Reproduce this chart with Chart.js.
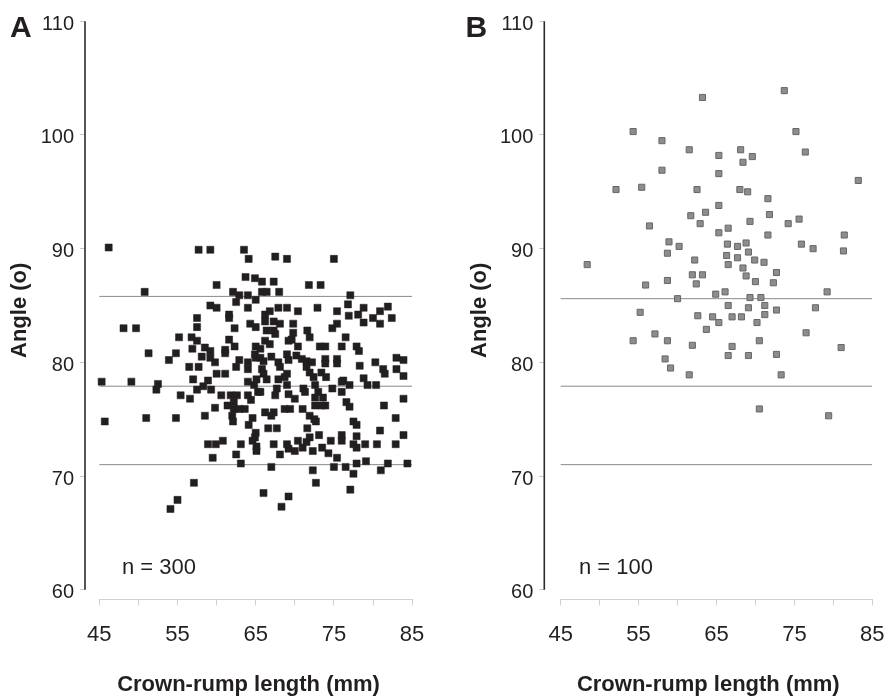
<!DOCTYPE html>
<html>
<head>
<meta charset="utf-8">
<script src="https://cdn.jsdelivr.net/npm/chart.js@4.4.1/dist/chart.umd.min.js"></script>
<style>
  html, body { margin: 0; padding: 0; background: #fff; }
  #wrap { position: relative; width: 891px; height: 698px; }
  canvas { position: absolute; top: 0; }
  #chartA { left: 0; }
  #chartB { left: 445px; }
</style>
</head>
<body>
<div id="wrap">
  <canvas id="chartA" width="445" height="698"></canvas>
  <canvas id="chartB" width="446" height="698"></canvas>
</div>
<script>
// panel A: crown-rump length (mm) and angle
const crlA = [
  46.2, 57.7, 59.2, 63.5, 64.1, 63.7, 64.9, 60.0, 50.8, 62.1,
  62.9, 64.0, 62.5, 65.0, 59.2, 60.0, 64.0, 57.5, 61.6, 61.6,
  48.1, 49.7, 57.5, 62.3, 64.3, 65.0, 55.2, 56.8, 57.5, 61.6,
  56.9, 58.5, 59.2, 61.1, 62.3, 65.0, 51.3, 54.8, 58.1, 59.2,
  61.1, 53.9, 59.8, 62.9, 64.0, 65.0, 56.5, 57.7, 62.5, 64.0,
  60.0, 61.1, 57.0, 58.9, 45.3, 49.1, 52.5, 64.0,
  52.3, 57.5, 58.3, 59.3, 55.4, 56.6, 60.6, 61.8, 62.6, 61.4,
  62.2, 62.2, 62.9, 63.6, 64.0, 64.4, 65.3, 64.8, 59.8, 58.5,
  45.7, 51.0, 54.8, 62.0, 62.1, 64.6, 64.1, 65.0, 64.6, 65.1,
  65.1, 58.9, 59.9, 60.8, 63.1, 62.5, 59.5, 63.1, 57.1, 55.0, 54.1,
  67.5, 69.0, 75.0, 65.8, 67.3, 71.8, 73.3, 65.8, 66.4, 68.0,
  77.1, 76.8, 78.8, 81.9, 67.9, 69.0, 70.4, 72.9, 75.4, 76.9,
  78.1, 80.9, 80.0, 82.4, 78.8, 80.9, 66.2, 66.8, 66.2, 67.3,
  68.1, 69.8, 75.4, 74.8, 66.4, 67.3, 69.8, 71.6, 67.5, 69.6,
  69.2, 71.9, 76.5, 66.2, 66.8, 65.6, 70.4, 73.2, 73.9, 76.0,
  77.9, 78.2, 64.9, 65.6, 66.0, 67.0, 69.0, 70.2, 70.9, 71.5,
  72.2, 73.9, 75.4, 83.0, 83.9, 67.9, 68.1, 69.2, 73.9, 75.4,
  80.3, 78.3, 83.0, 81.3, 81.5, 83.9, 65.8, 66.0, 65.1, 71.5,
  71.9, 72.4, 69.0, 68.7, 73.4, 74.0, 78.8, 76.2, 66.4, 67.9,
  65.6, 67.7, 67.5, 69.0, 69.2, 70.0, 71.1, 71.3, 72.6, 73.0,
  72.6, 73.6, 73.9, 72.6, 73.4, 74.8, 76.0, 76.0, 77.0, 79.3,
  80.4, 83.9, 81.4, 76.6, 77.0, 66.2, 67.3, 67.0, 68.7, 69.4,
  71.0, 71.9, 72.5, 72.7, 82.9, 77.5, 77.9, 66.6, 67.7, 64.9,
  71.6, 80.9, 83.9, 73.1, 76.0, 76.0, 77.9, 67.3, 69.0, 69.2,
  70.0, 70.4, 71.0, 71.5, 71.9, 72.3, 73.5, 74.6, 74.3, 75.4,
  77.5, 77.9, 79.0, 80.5, 82.9, 68.1, 67.0, 72.3, 75.0, 76.5,
  77.9, 79.1, 81.9, 84.4, 77.5, 81.0, 72.7, 77.1, 66.0, 69.2, 68.3
];
const angleA = [
  90.1, 89.9, 89.9, 89.9, 89.1, 87.5, 87.4, 86.8, 86.2, 86.2,
  85.9, 85.9, 85.3, 85.5, 85.0, 84.8, 84.8, 83.9, 84.2, 83.9,
  83.0, 83.0, 83.1, 83.0, 83.4, 83.1, 82.2, 82.2, 81.9, 82.0,
  81.2, 81.3, 81.0, 81.1, 81.4, 81.4, 80.8, 80.8, 80.5, 80.4,
  80.8, 80.2, 80.0, 80.2, 80.0, 80.4, 79.6, 79.6, 79.6, 79.4,
  79.0, 79.0, 78.5, 78.4, 78.3, 78.3, 78.1, 78.3,
  77.6, 77.6, 77.9, 77.6, 77.1, 76.8, 77.1, 77.1, 77.1, 76.2,
  76.5, 75.9, 75.9, 75.9, 77.1, 76.7, 77.4, 78.0, 76.0, 75.3,
  74.8, 75.1, 75.1, 75.3, 74.8, 75.1, 74.5, 73.8, 73.1, 72.6,
  72.2, 72.8, 72.8, 73.1, 72.8, 71.9, 71.6, 71.1, 69.4, 67.9, 67.1,
  89.3, 89.1, 89.1, 87.1, 87.1, 86.8, 86.8, 86.2, 86.2, 86.2,
  85.9, 85.1, 84.8, 84.9, 84.8, 84.8, 84.5, 84.8, 84.5, 84.1,
  84.2, 84.5, 83.9, 83.9, 83.5, 83.4, 84.2, 84.5, 83.6, 83.6,
  83.4, 83.4, 83.4, 83.0, 82.8, 82.8, 82.6, 82.8, 82.5, 82.0,
  81.9, 82.2, 82.2, 81.9, 81.6, 81.2, 81.4, 81.4, 81.4, 81.4,
  81.4, 81.0, 80.7, 80.4, 80.1, 80.5, 80.7, 80.6, 80.3, 80.1,
  80.0, 80.3, 80.3, 80.4, 80.2, 80.0, 79.6, 80.2, 79.9, 79.9,
  80.0, 79.7, 79.4, 79.4, 79.0, 78.8, 79.4, 79.0, 78.5, 79.6,
  79.1, 78.7, 79.0, 78.7, 79.1, 78.7, 78.6, 78.4, 78.5, 78.5,
  77.4, 77.7, 77.1, 78.0, 77.2, 76.8, 77.7, 77.4, 78.0, 77.4,
  76.9, 76.9, 76.2, 76.2, 76.2, 77.7, 78.3, 77.4, 78.0, 78.0,
  78.0, 76.8, 76.2, 76.5, 76.1, 75.6, 75.6, 75.3, 75.9, 75.9,
  75.9, 75.3, 75.0, 74.8, 75.1, 74.8, 74.5, 74.2, 74.2, 73.4,
  74.2, 74.0, 73.6, 73.6, 73.6, 73.1, 73.5, 72.8, 72.8, 72.4,
  72.2, 73.1, 72.5, 73.0, 73.4, 72.2, 72.5, 73.1, 72.0, 71.6,
  72.8, 72.5, 72.8, 72.8, 72.8, 71.9, 70.8, 70.5, 70.8, 70.8,
  71.1, 71.3, 71.1, 71.1, 70.2, 70.5, 69.4, 68.8, 68.5, 68.2, 67.3
];

// panel B
const crlB = [
  63.2, 54.3, 58.0, 61.5, 65.3, 58.0, 65.3, 52.1, 55.4, 62.5,
  65.3, 61.7, 63.6, 62.9, 56.4, 65.3, 58.9, 60.2, 58.7, 48.4,
  62.2, 61.9, 63.2, 58.7, 55.9, 62.4, 64.9, 60.0, 55.2, 62.6,
  64.5, 65.3, 63.7, 57.1, 54.3, 58.7, 61.9, 58.4, 59.1, 61.5,
  73.7, 75.2, 68.1, 69.6, 68.4, 76.4, 83.2, 68.0, 69.0, 71.6,
  71.8, 69.3, 74.2, 75.6, 66.5, 71.6, 81.4, 66.4, 67.7, 68.8,
  75.9, 77.4, 81.3, 69.1, 66.3, 67.7, 69.9, 71.1, 66.5, 68.4,
  72.7, 68.8, 70.0, 72.3, 79.2, 66.1, 69.3, 70.7, 66.5, 69.1,
  71.2, 71.2, 72.7, 77.7, 67.0, 68.2, 70.2, 76.5, 70.5, 67.0,
  81.0, 66.5, 69.1, 72.7, 73.3, 70.5, 79.4
];
const angleB = [
  103.3, 100.3, 99.5, 98.7, 98.2, 96.9, 96.6, 95.2, 95.4, 95.2,
  93.8, 92.9, 93.2, 92.2, 92.0, 91.4, 90.6, 90.2, 89.6, 88.6,
  89.0, 87.7, 87.7, 87.2, 86.8, 86.9, 86.0, 85.6, 84.4, 84.1,
  84.0, 83.5, 82.9, 82.5, 81.9, 81.9, 81.5, 80.3, 79.5, 78.9,
  103.9, 100.3, 98.7, 98.1, 97.6, 98.5, 96.0, 95.2, 95.0, 94.4,
  93.0, 92.4, 92.2, 92.6, 91.8, 91.2, 91.2, 90.4, 90.2, 90.5,
  90.4, 90.0, 89.8, 89.7, 89.4, 89.2, 89.0, 88.8, 88.6, 88.3,
  87.9, 87.6, 87.1, 87.0, 86.2, 86.2, 85.7, 85.7, 85.0, 84.8,
  85.0, 84.2, 84.6, 84.8, 84.0, 84.0, 83.5, 82.6, 81.9, 81.4,
  81.3, 80.6, 80.6, 80.7, 78.9, 75.9, 75.3
];

// horizontal reference levels
const refLinesA = [85.8, 77.9, 71.0];
const refLinesB = [85.6, 77.9, 71.0];

const xTicks = [45, 50, 55, 60, 65, 70, 75, 80, 85];
const xTickLabels = ["45", "", "55", "", "65", "", "75", "", "85"];
const yTicks = [60, 70, 80, 90, 100, 110];

const INK = "#231f20";
const FONT = "'Liberation Sans', Arial, Helvetica, sans-serif";

Chart.defaults.font.family = FONT;
Chart.defaults.color = INK;

// y axis line (110 down to 60), faint x baseline, panel letter, n label
const axesPlugin = {
  id: "axesPlugin",
  afterDraw(chart, args, opts) {
    const ctx = chart.ctx;
    const xs = chart.scales.x;
    const ys = chart.scales.y;
    const left = chart.chartArea.left;
    ctx.save();
    ctx.strokeStyle = "#2b2b2b";
    ctx.lineWidth = 1.6;
    ctx.beginPath();
    ctx.moveTo(left, ys.getPixelForValue(yTicks[yTicks.length - 1]));
    ctx.lineTo(left, ys.getPixelForValue(yTicks[0]));
    ctx.stroke();

    const by = Math.round(chart.chartArea.bottom) + 0.5;
    ctx.strokeStyle = "#d2d2d2";
    ctx.lineWidth = 1;
    ctx.beginPath();
    ctx.moveTo(xs.getPixelForValue(xTicks[0]), by);
    ctx.lineTo(xs.getPixelForValue(xTicks[xTicks.length - 1]), by);
    ctx.stroke();

    ctx.fillStyle = INK;
    ctx.font = "bold 30px " + FONT;
    ctx.textAlign = "left";
    ctx.textBaseline = "alphabetic";
    ctx.fillText(opts.letter, opts.letterX, 37);

    ctx.font = "22px " + FONT;
    ctx.textBaseline = "middle";
    ctx.fillText(opts.nText, xs.getPixelForValue(opts.nAt[0]), ys.getPixelForValue(opts.nAt[1]));
    ctx.restore();
  }
};

function makeChart(id, xVals, yVals, refs, cfg) {
  let lineSets = refs.map(function (v) {
    return {
      data: [{ x: xTicks[0], y: v }, { x: xTicks[xTicks.length - 1], y: v }],
      showLine: true,
      pointRadius: 0,
      borderColor: "#8a8a8a",
      borderWidth: 1,
      order: 2,
    };
  });
  let points = xVals.map(function (x, i) {
    return { x: x, y: yVals[i] };
  });

  return new Chart(document.getElementById(id), {
    type: "scatter",
    data: {
      datasets: lineSets.concat([
        {
          data: points,
          pointStyle: "rect",
          pointRadius: cfg.radius,
          backgroundColor: cfg.fill,
          borderColor: cfg.stroke,
          borderWidth: cfg.strokeWidth,
          order: 1,
        },
      ]),
    },
    options: {
      responsive: false,
      animation: false,
      events: [],
      layout: { padding: { top: 21.3, right: cfg.padRight, bottom: 0, left: 0 } },
      plugins: {
        legend: { display: false },
        tooltip: { enabled: false },
        axesPlugin: { letter: cfg.letter, letterX: cfg.letterX, nText: cfg.nText, nAt: cfg.nAt },
      },
      scales: {
        x: {
          type: "linear",
          min: cfg.xMin,
          max: 85,
          afterBuildTicks: function (s) {
            s.ticks = xTicks.map(function (v) { return { value: v }; });
          },
          afterFit: function (s) {
            s.height = 98.7;
            s.paddingLeft = 0;
            s.paddingRight = 0;
          },
          grid: { display: true, drawOnChartArea: false, drawTicks: true, tickLength: 6, color: "#cfcfcf" },
          border: { display: false },
          ticks: {
            autoSkip: false,
            maxRotation: 0,
            padding: 16,
            color: INK,
            font: { size: 22 },
            callback: function (value, index) { return xTickLabels[index]; },
          },
          title: {
            display: true,
            text: "Crown-rump length (mm)",
            color: INK,
            font: { size: 22, weight: "bold" },
            padding: { top: 0, bottom: 0 },
          },
        },
        y: {
          type: "linear",
          min: 59.155,
          max: 110,
          afterBuildTicks: function (s) {
            s.ticks = yTicks.map(function (v) { return { value: v }; });
          },
          afterFit: function (s) {
            s.width = cfg.axisLeft;
            s.paddingTop = 0;
            s.paddingBottom = 0;
          },
          grid: { display: true, drawOnChartArea: false, drawTicks: true, tickLength: 5, color: "#c8c8c8" },
          border: { display: false },
          ticks: { padding: 6, labelOffset: 3, color: INK, font: { size: 20 } },
          title: {
            display: true,
            text: "Angle (o)",
            color: INK,
            font: { size: 22, weight: "bold" },
            padding: { top: cfg.titlePad, bottom: 0 },
          },
        },
      },
    },
    plugins: [axesPlugin],
  });
}

makeChart("chartA", crlA, angleA, refLinesA, {
  xMin: 43.171, padRight: 32.9, axisLeft: 85, titlePad: 6.8,
  radius: 5, fill: INK, stroke: INK, strokeWidth: 0.5,
  letter: "A", letterX: 10, nText: "n = 300", nAt: [47.9, 61.94],
});

makeChart("chartB", crlB, angleB, refLinesB, {
  xMin: 42.895, padRight: 18.7, axisLeft: 99.3, titlePad: 21.8,
  radius: 4.3, fill: "#8d8d8d", stroke: "#676767", strokeWidth: 1,
  letter: "B", letterX: 20.6, nText: "n = 100", nAt: [47.35, 61.95],
});
</script>
</body>
</html>
